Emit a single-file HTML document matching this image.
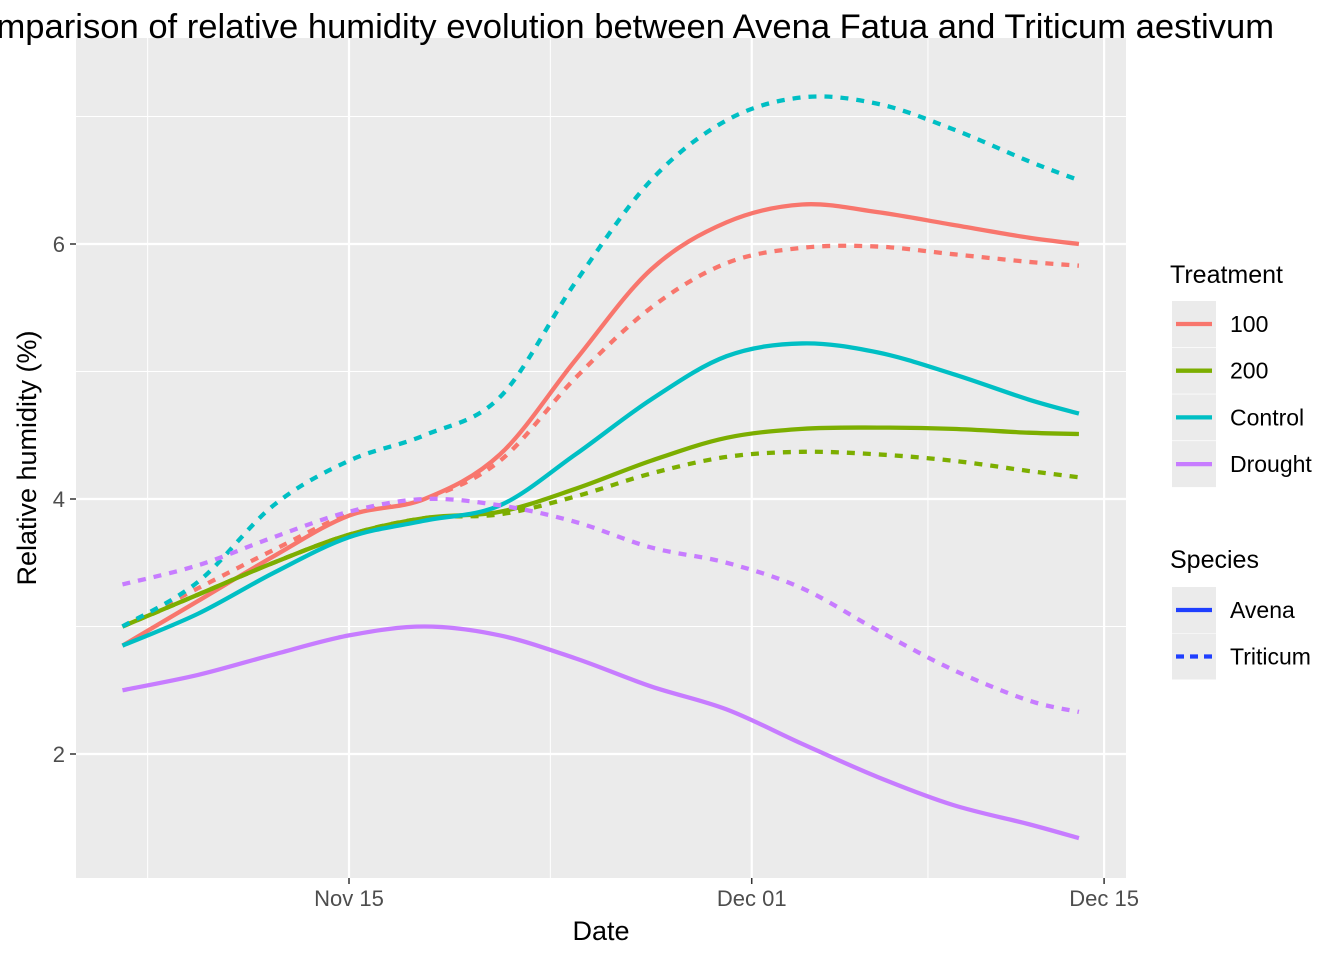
<!DOCTYPE html>
<html><head><meta charset="utf-8">
<style>
body{margin:0;background:#fff;}
svg{display:block;font-family:"Liberation Sans",Arial,sans-serif;}
</style></head>
<body>
<svg id="chart" width="1344" height="960">
  <rect x="0" y="0" width="1344" height="960" fill="#fff"/>
  <rect x="76" y="38" width="1050" height="840" fill="#ebebeb"/>
  <g id="grid"></g>
  <g id="series"></g>
  <g id="axes"></g>
  <text x="1274" y="38" font-size="34.6" text-anchor="end" fill="#000">Comparison of relative humidity evolution between Avena Fatua and Triticum aestivum</text>
  <text x="601" y="940" font-size="27" text-anchor="middle" fill="#000">Date</text>
  <text transform="translate(36,458) rotate(-90)" font-size="27" text-anchor="middle" fill="#000">Relative humidity (%)</text>
  <g id="legend"></g>
</svg>
<script>
// day offsets from Nov 15
const days = [-9,-6,-3,0,3,6,9,12,15,18,21,24,27,29];
const treatments = ["100","200","Control","Drought"];
const colors = ["#F8766D","#7CAE00","#00BFC4","#C77CFF"];
const avena100 = [2.85,3.2,3.55,3.87,4.0,4.35,5.09,5.8,6.17,6.31,6.25,6.15,6.05,6.0];
const triticum100 = [3.0,3.3,3.6,3.88,4.0,4.3,4.95,5.5,5.85,5.97,5.98,5.92,5.86,5.83];
const avena200 = [3.0,3.25,3.5,3.72,3.85,3.9,4.08,4.3,4.48,4.55,4.56,4.55,4.52,4.51];
const triticum200 = [3.0,3.25,3.5,3.72,3.85,3.88,4.02,4.2,4.33,4.37,4.35,4.3,4.22,4.17];
const avenaControl = [2.85,3.1,3.42,3.7,3.83,3.95,4.35,4.78,5.12,5.22,5.15,4.98,4.78,4.67];
const triticumControl = [3.0,3.35,3.95,4.3,4.5,4.8,5.7,6.5,6.97,7.15,7.1,6.9,6.65,6.5];
const avenaDrought = [2.5,2.62,2.78,2.93,3.0,2.93,2.75,2.53,2.35,2.08,1.82,1.6,1.45,1.34];
const triticumDrought = [3.33,3.48,3.7,3.9,4.0,3.95,3.82,3.62,3.5,3.3,2.97,2.66,2.42,2.33];
const yTicks = [2,4,6];
const yMinor = [1,3,5,7];
const xTickDays = [0,16,30];
const xTickLabels = ["Nov 15","Dec 01","Dec 15"];
const xMinorDays = [-8,8,23];

const NS="http://www.w3.org/2000/svg";
const X = d => 349 + d*25.17;
const Y = v => 499 - (v-4)*127.5;
function mk(tag,attrs,parent){const e=document.createElementNS(NS,tag);for(const k in attrs)e.setAttribute(k,attrs[k]);parent.appendChild(e);return e;}
const grid=document.getElementById('grid'), axes=document.getElementById('axes'), ser=document.getElementById('series'), leg=document.getElementById('legend');

yMinor.forEach(v=>{const y=Y(v); if(y<38||y>878)return;
  const l=mk('line',{x1:76,x2:1126,y1:y,y2:y,stroke:'#fff','stroke-width':1},grid);
  
  });
xMinorDays.forEach(d=>{const x=X(d);
  const l=mk('line',{x1:x,x2:x,y1:38,y2:878,stroke:'#fff','stroke-width':1},grid);
  
  });
yTicks.forEach(v=>{const y=Y(v);
  const l=mk('line',{x1:76,x2:1126,y1:y,y2:y,stroke:'#fff','stroke-width':2.2},grid);
  
  
  const t=mk('line',{x1:70,x2:76,y1:y,y2:y,stroke:'#333','stroke-width':1.5},axes);
  
  
  const tx=mk('text',{x:65,y:y+8,'font-size':22,'text-anchor':'end',fill:'#4d4d4d'},axes);
  tx.textContent=v;
  
  });
xTickDays.forEach((d,i)=>{const x=X(d);
  const l=mk('line',{x1:x,x2:x,y1:38,y2:878,stroke:'#fff','stroke-width':2.2},grid);
  
  
  const t=mk('line',{x1:x,x2:x,y1:878,y2:884,stroke:'#333','stroke-width':1.5},axes);
  
  
  const tx=mk('text',{x:x,y:906,'font-size':22,'text-anchor':'middle',fill:'#4d4d4d'},axes);
  tx.textContent=xTickLabels[i];
  
  });

function pathD(vals){
  const p=days.map((d,i)=>[X(d),Y(vals[i])]);
  let s=`M${p[0][0]},${p[0][1]}`;
  for(let i=0;i<p.length-1;i++){
    const p0=p[i-1]||p[i],p1=p[i],p2=p[i+1],p3=p[i+2]||p[i+1];
    const c1=[p1[0]+(p2[0]-p0[0])/6,p1[1]+(p2[1]-p0[1])/6];
    const c2=[p2[0]-(p3[0]-p1[0])/6,p2[1]-(p3[1]-p1[1])/6];
    s+=` C${c1[0]},${c1[1]} ${c2[0]},${c2[1]} ${p2[0]},${p2[1]}`;
  }
  return s;
}
const seriesList=[
 [avena100,0,false,'avena-100-line'],[triticum100,0,true,'triticum-100-line'],
 [avena200,1,false,'avena-200-line'],[triticum200,1,true,'triticum-200-line'],
 [avenaControl,2,false,'avena-control-line'],[triticumControl,2,true,'triticum-control-line'],
 [avenaDrought,3,false,'avena-drought-line'],[triticumDrought,3,true,'triticum-drought-line']];
seriesList.forEach(s=>{
  const a={d:pathD(s[0]),fill:'none',stroke:colors[s[1]],'stroke-width':4.3};
  if(s[2])a['stroke-dasharray']='8 8';
  const p=mk('path',a,ser);
  
  });

// legend
const lt=mk('text',{x:1170,y:283,'font-size':25,fill:'#000'},leg);
lt.textContent='Treatment';


treatments.forEach((t,i)=>{const cy=324+i*46.7;
  const g=mk('g',{},leg);
  
  
  mk('rect',{x:1172,y:cy-23,width:44,height:46,fill:'#ebebeb'},g);
  mk('line',{x1:1176,x2:1212,y1:cy,y2:cy,stroke:colors[i],'stroke-width':4.3},g);
  const tx=mk('text',{x:1230,y:cy+8,'font-size':23,fill:'#000'},g);tx.textContent=t;});
const st=mk('text',{x:1170,y:568,'font-size':25,fill:'#000'},leg);
st.textContent='Species';


["Avena","Triticum"].forEach((t,i)=>{const cy=610+i*46.5;
  const g=mk('g',{},leg);
  
  
  mk('rect',{x:1172,y:cy-23,width:44,height:46,fill:'#ebebeb'},g);
  const a={x1:1176,x2:1212,y1:cy,y2:cy,stroke:'#1f3fff','stroke-width':4.3};
  if(i===1)a['stroke-dasharray']='8 6';
  mk('line',a,g);
  const tx=mk('text',{x:1230,y:cy+8,'font-size':23,fill:'#000'},g);tx.textContent=t;});
</script>
</body></html>
